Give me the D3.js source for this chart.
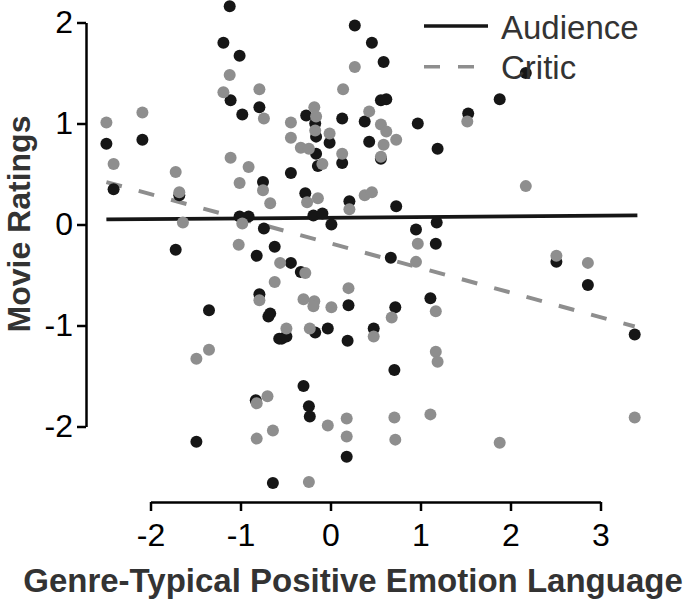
<!DOCTYPE html>
<html>
<head>
<meta charset="utf-8">
<script src="https://cdnjs.cloudflare.com/ajax/libs/d3/7.8.5/d3.min.js"></script>
<style>
  body { margin: 0; background: #fff; }
  svg { display: block; font-family: "Liberation Sans", Arial, sans-serif; }
  .axis path, .axis line { stroke: #000; stroke-width: 2.5; }
  .axis text { font-size: 32px; fill: #000; }
</style>
</head>
<body>
<div id="chart"></div>
<script>
var width = 685,
    height = 604;

// audience ratings (black dots)
var audienceX = [-2.49, -2.41, -2.09, -1.68, -1.12, -1.19, -1.01, -1.11, -0.98, -0.79,
  -0.75, -1.01, -0.91, 0.27, 0.46, 0.59, 0.56, 0.62, -0.27, -0.17,
  -0.16, 0.13, 0.38, 0.97, -0.01, 0.43, 0.56, -0.16, 0.13, -0.14,
  1.19, -0.44, -0.28, 0.21, 0.73, -0.19, -0.09, 1.53, 2.17, 1.88,
  -0.74, -1.72, -0.82, -0.62, -0.79, -0.69, -0.67, -0.57, -1.35, -0.83,
  0.01, 0.95, 1.18, 1.17, -0.44, -0.33, 0.67, 0.20, 0.72, 1.11,
  -0.54, -0.49, -0.17, -0.03, 0.19, 0.48, 0.71, -0.30, -0.24, 2.51,
  2.86, 3.38, -0.23, 0.18, -1.49, -0.64];
var audienceY = [0.80, 0.35, 0.84, 0.29, 2.16, 1.80, 1.67, 1.23, 1.09, 1.16,
  0.42, 0.08, 0.08, 1.97, 1.80, 1.61, 1.23, 1.24, 1.08, 1.00,
  0.87, 1.05, 1.02, 1.00, 0.81, 0.82, 0.65, 0.70, 0.61, 0.58,
  0.75, 0.51, 0.31, 0.23, 0.18, 0.09, 0.11, 1.10, 1.50, 1.24,
  -0.04, -0.25, -0.31, -0.22, -0.69, -0.91, -0.88, -1.13, -0.85, -1.74,
  0.00, -0.05, 0.02, -0.19, -0.38, -0.47, -0.33, -0.80, -0.82, -0.73,
  -1.13, -1.11, -1.07, -1.03, -1.15, -1.03, -1.44, -1.60, -1.80, -0.37,
  -0.60, -1.09, -1.90, -2.30, -2.15, -2.56];

// critic ratings (grey dots)
var criticX = [-2.49, -2.41, -2.09, -1.72, -1.68, -1.12, -1.19, -0.79, -0.74, -1.11,
  -0.91, -1.01, -0.75, -0.67, -1.64, -0.98, 0.27, 0.14, 0.43, -0.18,
  -0.16, -0.17, 0.56, 0.62, 0.73, -0.44, -0.44, -0.01, 0.59, -0.33,
  -0.24, 0.13, 0.56, -0.09, -0.26, -0.14, 0.21, 0.38, 0.46, 1.52,
  2.17, -1.02, -0.56, -0.62, -0.79, -1.35, -1.49, -0.82, -0.70, 0.97,
  0.95, 0.20, -0.30, -0.18, -0.19, 0.01, 1.17, 0.68, -0.49, -0.23,
  0.48, 1.17, 1.19, 2.51, 2.86, 3.38, 1.88, -0.03, 0.18, 0.18,
  0.71, 0.72, 1.11, -0.82, -0.64, -0.24, -0.28];
var criticY = [1.01, 0.60, 1.11, 0.52, 0.32, 1.48, 1.31, 1.34, 1.05, 0.66,
  0.57, 0.41, 0.34, 0.21, 0.02, 0.01, 1.56, 1.34, 1.12, 1.16,
  1.07, 0.93, 0.99, 0.92, 0.84, 1.01, 0.86, 0.90, 0.79, 0.76,
  0.75, 0.70, 0.67, 0.60, 0.22, 0.26, 0.15, 0.29, 0.32, 1.02,
  0.38, -0.20, -0.38, -0.57, -0.75, -1.24, -1.33, -1.77, -1.70, -0.19,
  -0.37, -0.63, -0.74, -0.76, -0.81, -0.82, -0.86, -0.92, -1.03, -1.03,
  -1.11, -1.26, -1.36, -0.31, -0.38, -1.91, -2.16, -1.99, -1.92, -2.10,
  -1.91, -2.13, -1.88, -2.12, -2.04, -2.55, -0.48];

// fitted lines (end points)
var audienceFitX = [-2.49, 3.41], audienceFitY = [0.05, 0.09];
var criticFitX = [-2.49, 3.38], criticFitY = [0.42, -1.01];

var xTicks = [-2, -1, 0, 1, 2, 3],
    yTicks = [-2, -1, 0, 1, 2];
var seriesNames = ['Audience', 'Critic'];

var black = '#161616', grey = '#8e8e8e';

var svg = d3.select('#chart').append('svg')
    .attr('width', width)
    .attr('height', height);

var x = d3.scaleLinear().domain([-2, 3]).range([150.5, 600.5]);
var y = d3.scaleLinear().domain([-2, 2]).range([426.5, 22.5]);

// axes, detached from each other
svg.append('g')
    .attr('class', 'axis')
    .attr('transform', 'translate(86,0)')
    .call(d3.axisLeft(y).tickValues(yTicks).tickSizeInner(9).tickSizeOuter(0).tickPadding(4)
      .tickFormat(function(d){ return d < 0 ? '-' + Math.abs(d) : d; }));

svg.append('g')
    .attr('class', 'axis')
    .attr('transform', 'translate(0,502)')
    .call(d3.axisBottom(x).tickValues(xTicks).tickSizeInner(9).tickSizeOuter(0).tickPadding(12)
      .tickFormat(function(d){ return d < 0 ? '-' + Math.abs(d) : d; }));

svg.selectAll('.axis text').attr('font-family', null);

// regression lines
var line = d3.line()
    .x(function(d){ return x(d[0]); })
    .y(function(d){ return y(d[1]); });

svg.append('path')
    .datum(d3.zip(audienceFitX, audienceFitY))
    .attr('d', line)
    .attr('fill', 'none')
    .attr('stroke', black)
    .attr('stroke-width', 3.8);

svg.append('path')
    .datum(d3.zip(criticFitX, criticFitY))
    .attr('d', line)
    .attr('fill', 'none')
    .attr('stroke', grey)
    .attr('stroke-width', 4)
    .attr('stroke-dasharray', '16,17.5');

// dots
svg.append('g').selectAll('circle')
    .data(d3.zip(audienceX, audienceY))
    .enter().append('circle')
      .attr('cx', function(d){ return x(d[0]); })
      .attr('cy', function(d){ return y(d[1]); })
      .attr('r', 6)
      .attr('fill', black);

svg.append('g').selectAll('circle')
    .data(d3.zip(criticX, criticY))
    .enter().append('circle')
      .attr('cx', function(d){ return x(d[0]); })
      .attr('cy', function(d){ return y(d[1]); })
      .attr('r', 6)
      .attr('fill', grey);

// legend
var legend = svg.append('g').attr('class', 'legend');
legend.selectAll('line')
    .data(seriesNames)
    .enter().append('line')
      .attr('x1', 424)
      .attr('x2', 488)
      .attr('y1', function(d, i){ return 26 + i * 40.7; })
      .attr('y2', function(d, i){ return 26 + i * 40.7; })
      .attr('stroke', function(d, i){ return i ? grey : black; })
      .attr('stroke-width', 3.5)
      .attr('stroke-dasharray', function(d, i){ return i ? '16,18' : null; });

legend.selectAll('text')
    .data(seriesNames)
    .enter().append('text')
      .attr('x', 501)
      .attr('y', function(d, i){ return 39 + i * 40; })
      .attr('font-size', 33)
      .attr('fill', '#333')
      .text(function(d){ return d; });

// axis titles
svg.append('text')
    .attr('x', 353)
    .attr('y', 592)
    .attr('text-anchor', 'middle')
    .attr('font-size', 33)
    .attr('font-weight', 'bold')
    .attr('fill', '#333')
    .text('Genre-Typical Positive Emotion Language');

svg.append('text')
    .attr('transform', 'translate(30,224) rotate(-90)')
    .attr('text-anchor', 'middle')
    .attr('font-size', 32)
    .attr('font-weight', 'bold')
    .attr('fill', '#333')
    .text('Movie Ratings');
</script>
</body>
</html>
